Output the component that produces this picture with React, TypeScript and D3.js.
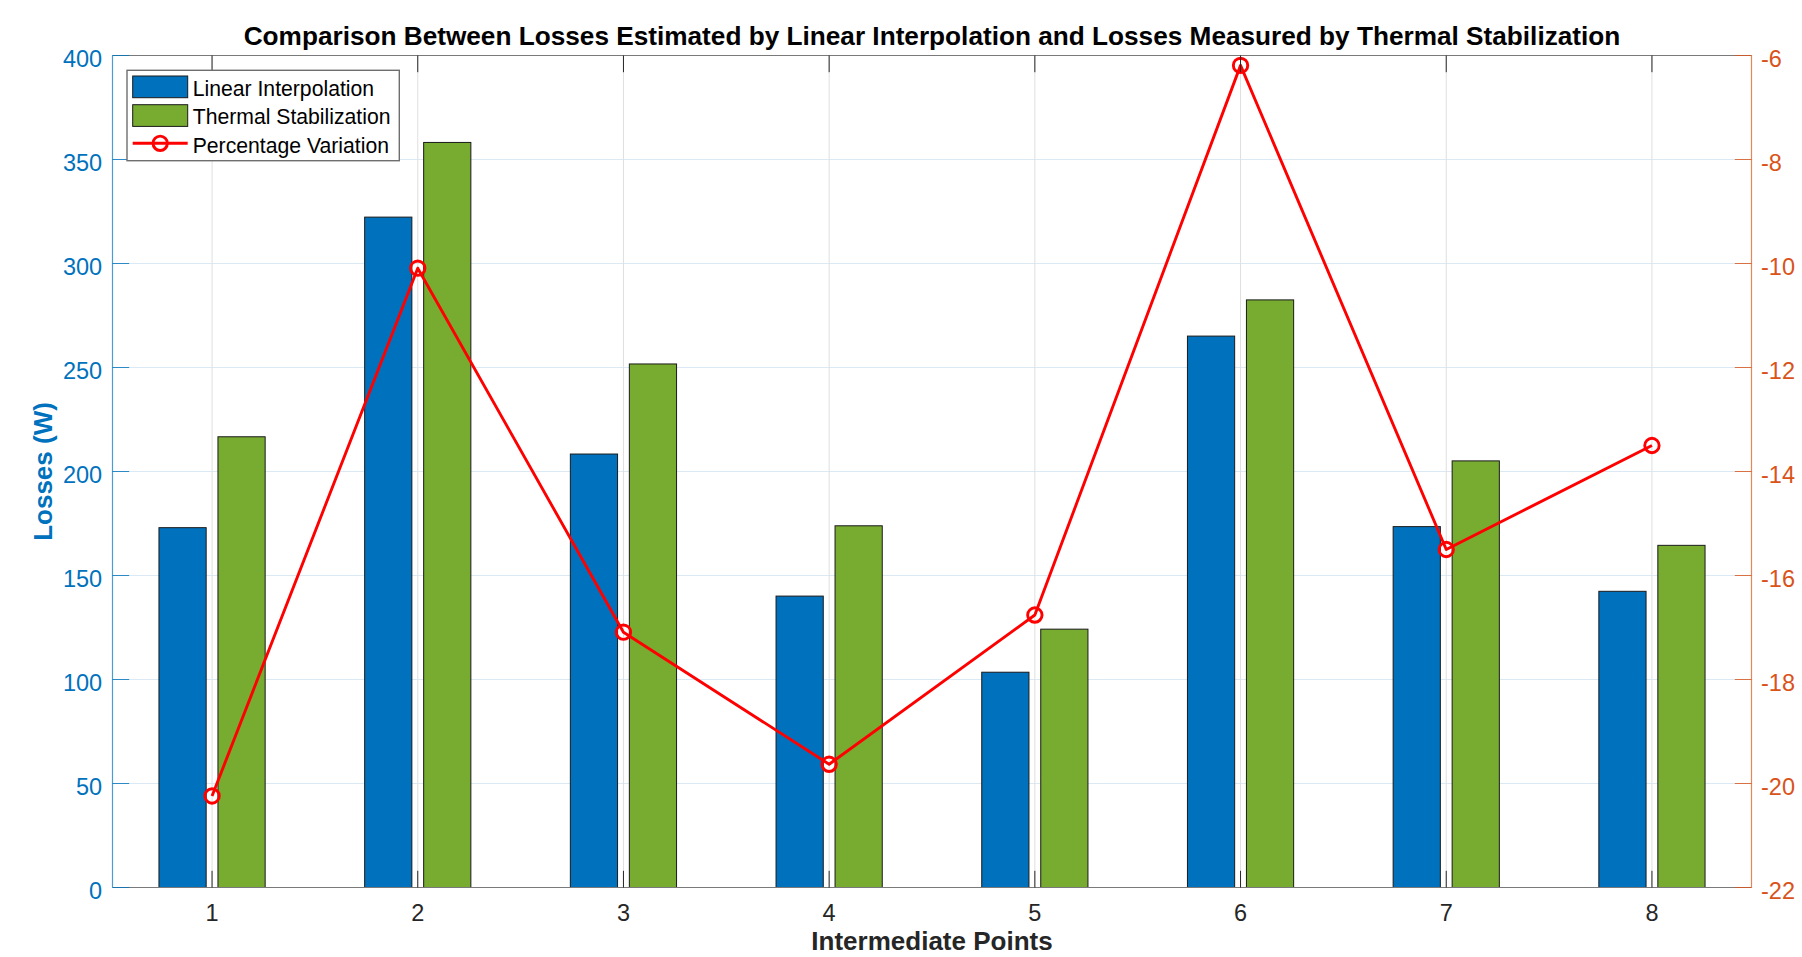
import * as d3 from 'd3';
import React from 'react';

const POINTS = [1, 2, 3, 4, 5, 6, 7, 8];
const LINEAR_INTERPOLATION = [173.0, 322.3, 208.4, 140.1, 103.5, 265.1, 173.5, 142.4];
const THERMAL_STABILIZATION = [216.7, 358.2, 251.7, 173.9, 124.2, 282.5, 205.1, 164.5];
const PERCENTAGE_VARIATION = [-20.24, -10.09, -17.09, -19.63, -16.76, -6.19, -15.5, -13.5];

const LEFT_TICKS = [0, 50, 100, 150, 200, 250, 300, 350, 400];
const RIGHT_TICKS = [-22, -20, -18, -16, -14, -12, -10, -8, -6];

const WIDTH = 1802;
const HEIGHT = 957;
// plot box, measured on the reference
const BOX = { left: 112.5, right: 1751.5, top: 55.5, bottom: 887.5 };

const BLUE = '#0072BD';
const GREEN = '#77AC30';
const ORANGE = '#D95319';
const FONT = '"Liberation Sans", Arial, Helvetica, sans-serif';
const TICK_LEN = 16.7;

export default function App() {
  const xScale = d3.scaleLinear().domain([0.516, 8.484]).range([BOX.left, BOX.right]);
  const yLeft = d3.scaleLinear().domain([0, 400]).range([BOX.bottom, BOX.top]);
  const yRight = d3.scaleLinear().domain([-22, -6]).range([BOX.bottom, BOX.top]);

  const barWidth = xScale(1.2295) - xScale(1);
  const barOffset = xScale(1.1434) - xScale(1);

  const line = d3
    .line<number>()
    .x((_, i) => xScale(POINTS[i]))
    .y(d => yRight(d));

  // grid below the data
  const grid = (
    <g>
      {LEFT_TICKS.map(t => (
        <line key={'h' + t} x1={BOX.left} x2={BOX.right} y1={yLeft(t)} y2={yLeft(t)} stroke="#dbe9f4" strokeWidth={1} />
      ))}
      {POINTS.map(p => (
        <line key={'v' + p} x1={xScale(p)} x2={xScale(p)} y1={BOX.top} y2={BOX.bottom} stroke="#dfdfdf" strokeWidth={1} />
      ))}
    </g>
  );

  const bars = POINTS.map((p, i) => {
    const cx = xScale(p);
    return (
      <g key={p}>
        <rect
          x={cx - barOffset - barWidth / 2}
          y={yLeft(LINEAR_INTERPOLATION[i])}
          width={barWidth}
          height={yLeft(0) - yLeft(LINEAR_INTERPOLATION[i])}
          fill={BLUE}
          stroke="#1a1a1a"
          strokeWidth={1}
        />
        <rect
          x={cx + barOffset - barWidth / 2}
          y={yLeft(THERMAL_STABILIZATION[i])}
          width={barWidth}
          height={yLeft(0) - yLeft(THERMAL_STABILIZATION[i])}
          fill={GREEN}
          stroke="#1a1a1a"
          strokeWidth={1}
        />
      </g>
    );
  });

  const variation = (
    <g>
      <path d={line(PERCENTAGE_VARIATION) ?? ''} fill="none" stroke="#FF0000" strokeWidth={2.9} strokeLinejoin="round" />
      {PERCENTAGE_VARIATION.map((v, i) => (
        <circle key={i} cx={xScale(POINTS[i])} cy={yRight(v)} r={7.2} fill="none" stroke="#FF0000" strokeWidth={2.9} />
      ))}
    </g>
  );

  const axes = (
    <g>
      {/* top and bottom box lines */}
      <line x1={BOX.left} x2={BOX.right} y1={BOX.top} y2={BOX.top} stroke="#7a7a7a" strokeWidth={1.2} />
      <line x1={BOX.left} x2={BOX.right} y1={BOX.bottom} y2={BOX.bottom} stroke="#7a7a7a" strokeWidth={1.2} />
      {POINTS.map(p => (
        <g key={p}>
          <line x1={xScale(p)} x2={xScale(p)} y1={BOX.bottom} y2={BOX.bottom - TICK_LEN} stroke="#262626" strokeWidth={1} />
          <line x1={xScale(p)} x2={xScale(p)} y1={BOX.top} y2={BOX.top + TICK_LEN} stroke="#262626" strokeWidth={1} />
          <text x={xScale(p)} y={BOX.bottom + 33.4} textAnchor="middle" fontSize={23.5} fill="#262626">
            {p}
          </text>
        </g>
      ))}

      {/* left axis */}
      <line x1={BOX.left} x2={BOX.left} y1={BOX.top} y2={BOX.bottom} stroke={BLUE} strokeOpacity={0.7} strokeWidth={1.2} />
      {LEFT_TICKS.map(t => (
        <g key={t}>
          <line x1={BOX.left} x2={BOX.left + TICK_LEN} y1={yLeft(t)} y2={yLeft(t)} stroke={BLUE} strokeOpacity={0.8} strokeWidth={1} />
          <text x={BOX.left - 10.3} y={yLeft(t) + 11} textAnchor="end" fontSize={23.5} fill={BLUE}>
            {t}
          </text>
        </g>
      ))}

      {/* right axis */}
      <line x1={BOX.right} x2={BOX.right} y1={BOX.top} y2={BOX.bottom} stroke={ORANGE} strokeOpacity={0.7} strokeWidth={1.2} />
      {RIGHT_TICKS.map(t => (
        <g key={t}>
          <line x1={BOX.right} x2={BOX.right - TICK_LEN} y1={yRight(t)} y2={yRight(t)} stroke={ORANGE} strokeOpacity={0.8} strokeWidth={1} />
          <text x={BOX.right + 9.5} y={yRight(t) + 11} textAnchor="start" fontSize={23.5} fill={ORANGE}>
            {t}
          </text>
        </g>
      ))}
    </g>
  );

  const legend = (
    <g>
      <rect x={127} y={70.3} width={272.3} height={90.4} fill="white" stroke="#6e6e6e" strokeWidth={1.4} />
      <rect x={132.7} y={76} width={55} height={21.7} fill={BLUE} stroke="#1a1a1a" strokeWidth={1} />
      <rect x={132.7} y={104.7} width={55} height={21.7} fill={GREEN} stroke="#1a1a1a" strokeWidth={1} />
      <line x1={132.7} x2={187.7} y1={143.3} y2={143.3} stroke="#FF0000" strokeWidth={2.9} />
      <circle cx={160.2} cy={143.3} r={7.2} fill="none" stroke="#FF0000" strokeWidth={2.9} />
      <text x={192.7} y={95.7} fontSize={21.2} fill="#000">Linear Interpolation</text>
      <text x={192.7} y={124.3} fontSize={21.2} fill="#000">Thermal Stabilization</text>
      <text x={192.7} y={152.7} fontSize={21.2} fill="#000">Percentage Variation</text>
    </g>
  );

  return (
    <svg
      width={WIDTH}
      height={HEIGHT}
      style={{ position: 'absolute', left: 0, top: 0, background: 'white' }}
      fontFamily={FONT}
    >
      <rect x={0} y={0} width={WIDTH} height={HEIGHT} fill="white" />
      {grid}
      {bars}
      {variation}
      {axes}
      {legend}
      <text x={(BOX.left + BOX.right) / 2} y={45} textAnchor="middle" fontSize={26.2} fontWeight="bold" fill="#000">
        Comparison Between Losses Estimated by Linear Interpolation and Losses Measured by Thermal Stabilization
      </text>
      <text x={(BOX.left + BOX.right) / 2} y={950} textAnchor="middle" fontSize={26} fontWeight="bold" fill="#262626">
        Intermediate Points
      </text>
      <text
        transform={`translate(52.4,${(BOX.top + BOX.bottom) / 2}) rotate(-90)`}
        textAnchor="middle"
        fontSize={26}
        fontWeight="bold"
        fill={BLUE}
      >
        Losses (W)
      </text>
    </svg>
  );
}
